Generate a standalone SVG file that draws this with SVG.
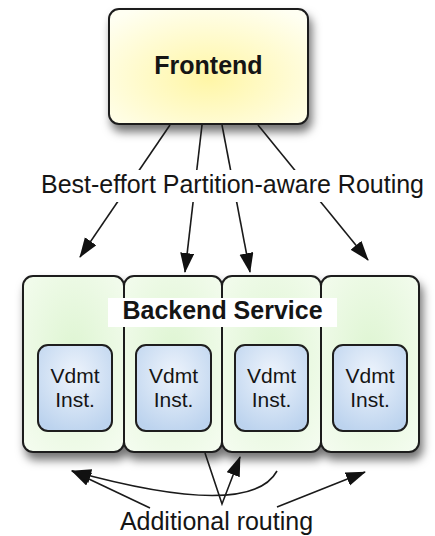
<svg xmlns="http://www.w3.org/2000/svg" width="435" height="536" viewBox="0 0 435 536">
  <style>
    .box { stroke: #1e1e1e; stroke-width: 2; }
    .lbl { font-family: "Liberation Sans", Arial, sans-serif; font-size: 25px; fill: #151515; }
    .bold { font-weight: bold; }
    .inst { font-family: "Liberation Sans", Arial, sans-serif; font-size: 21px; fill: #151515; text-anchor: middle; }
    .edge { fill: none; stroke: #1a1a1a; stroke-width: 1.6; }
  </style>
  <defs>
    <radialGradient id="gFront" cx="0.5" cy="0.6" r="0.7">
      <stop offset="0" stop-color="#fff6a6"/>
      <stop offset="1" stop-color="#fffff2"/>
    </radialGradient>
    <radialGradient id="gBack" cx="0.5" cy="0.45" r="0.7">
      <stop offset="0" stop-color="#def5d2"/>
      <stop offset="1" stop-color="#f4fcef"/>
    </radialGradient>
    <radialGradient id="gInst" cx="0.5" cy="0.35" r="0.7">
      <stop offset="0" stop-color="#eef4fc"/>
      <stop offset="1" stop-color="#bcd3ee"/>
    </radialGradient>
    <filter id="shadow" x="-10%" y="-10%" width="125%" height="130%">
      <feDropShadow dx="3" dy="7" stdDeviation="5" flood-color="#000" flood-opacity="0.55"/>
    </filter>
    <marker id="arrow" markerUnits="userSpaceOnUse" markerWidth="22" markerHeight="16" refX="19" refY="7" orient="auto">
      <path d="M0,0 L20,7 L0,14 Z" fill="#111"/>
    </marker>
  </defs>

  <!-- Frontend node -->
  <g id="frontend">
    <rect class="box" x="109" y="9" width="199" height="115" rx="10" fill="url(#gFront)" filter="url(#shadow)"/>
    <text class="lbl bold" x="208.5" y="74" text-anchor="middle">Frontend</text>
  </g>

  <!-- Backend service: four partitions -->
  <g id="backend">
    <g filter="url(#shadow)">
      <rect class="box" x="23" y="276" width="101" height="176" rx="10" fill="url(#gBack)"/>
      <rect class="box" x="124" y="276" width="98" height="176" rx="10" fill="url(#gBack)"/>
      <rect class="box" x="222" y="276" width="99" height="176" rx="10" fill="url(#gBack)"/>
      <rect class="box" x="321" y="276" width="98" height="176" rx="10" fill="url(#gBack)"/>
    </g>
    <rect x="108" y="298" width="229" height="29" fill="#fff"/>
    <text class="lbl bold" x="222.5" y="319" text-anchor="middle">Backend Service</text>
  </g>

  <g id="inst1">
    <rect class="box" x="38" y="345" width="74" height="86" rx="10" fill="url(#gInst)"/>
    <text class="inst" x="75" y="383">Vdmt</text>
    <text class="inst" x="75" y="407">Inst.</text>
  </g>
  <g id="inst2">
    <rect class="box" x="136" y="345" width="75" height="86" rx="10" fill="url(#gInst)"/>
    <text class="inst" x="173.5" y="383">Vdmt</text>
    <text class="inst" x="173.5" y="407">Inst.</text>
  </g>
  <g id="inst3">
    <rect class="box" x="235" y="345" width="73" height="86" rx="10" fill="url(#gInst)"/>
    <text class="inst" x="271.5" y="383">Vdmt</text>
    <text class="inst" x="271.5" y="407">Inst.</text>
  </g>
  <g id="inst4">
    <rect class="box" x="333" y="345" width="74" height="86" rx="10" fill="url(#gInst)"/>
    <text class="inst" x="370" y="383">Vdmt</text>
    <text class="inst" x="370" y="407">Inst.</text>
  </g>

  <!-- Connectors -->
  <g id="connectors">
    <!-- frontend to partitions -->
    <path class="edge" d="M170,125 L80,257" marker-end="url(#arrow)"/>
    <path class="edge" d="M202,125 L185,272" marker-end="url(#arrow)"/>
    <path class="edge" d="M222,125 L250,272" marker-end="url(#arrow)"/>
    <path class="edge" d="M258,125 L368,260" marker-end="url(#arrow)"/>
    <!-- additional routing between partitions -->
    <path class="edge" d="M150,508 L72,471" marker-end="url(#arrow)"/>
    <path class="edge" d="M277,471 Q250,520 72,471" marker-end="url(#arrow)"/>
    <path class="edge" d="M205,453 L222,504 L240,457" marker-end="url(#arrow)"/>
    <path class="edge" d="M277,507 L365,472" marker-end="url(#arrow)"/>
  </g>

  <!-- Edge labels -->
  <g id="label-routing">
    <rect x="35" y="170" width="396" height="32" fill="#fff"/>
    <text class="lbl" x="232.5" y="193" text-anchor="middle">Best-effort Partition-aware Routing</text>
  </g>
  <g id="label-additional">
    <text class="lbl" x="216.5" y="530" text-anchor="middle">Additional routing</text>
  </g>
</svg>
